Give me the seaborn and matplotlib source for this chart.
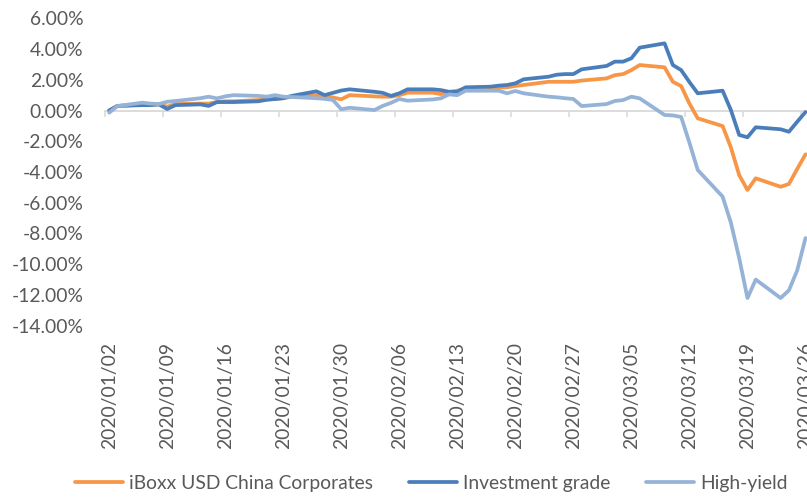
import matplotlib
matplotlib.use("Agg")
from matplotlib import pyplot as plt
import matplotlib.dates as mdates
import matplotlib.ticker as mticker
import pandas as pd
import seaborn as sns

# data (cumulative return, %), business days 2020/01/02 - 2020/03/26
dates = pd.bdate_range("2020-01-02", "2020-03-26")

iboxx = [0.0, 0.3, 0.38, 0.38, 0.4, 0.25, 0.42, 0.45, 0.45, 0.55, 0.6, 0.6, 0.68, 0.72, 0.75, 0.8, 0.9, 1.0, 0.9, 0.85, 0.73, 1.0,
         0.92, 0.9, 0.9, 1.0, 1.16, 1.16, 1.07, 1.2, 1.29, 1.44, 1.48, 1.5, 1.51, 1.6, 1.66, 1.87, 1.87, 1.87, 1.87, 1.95,
         2.09, 2.3, 2.37, 2.63, 2.96, 2.81, 1.87, 1.59, 0.45, -0.51, -1.01, -2.4, -4.2, -5.17, -4.41, -4.96, -4.78, -3.8, -2.85]
inv_grade = [0.0, 0.3, 0.35, 0.35, 0.4, 0.1, 0.35, 0.4, 0.3, 0.55, 0.55, 0.55, 0.6, 0.7, 0.75, 0.8, 0.95, 1.25, 1.0, 1.15, 1.3, 1.38,
             1.22, 1.15, 0.95, 1.12, 1.38, 1.38, 1.33, 1.22, 1.22, 1.51, 1.55, 1.62, 1.66, 1.77, 2.03, 2.2, 2.33, 2.37, 2.37, 2.68,
             2.9, 3.18, 3.18, 3.4, 4.09, 4.37, 2.96, 2.63, 1.85, 1.12, 1.29, 0.03, -1.59, -1.74, -1.09, -1.22, -1.38, -0.73, -0.1]
high_yield = [-0.14, 0.29, 0.51, 0.45, 0.42, 0.57, 0.62, 0.8, 0.9, 0.79, 0.92, 1.0, 0.95, 0.9, 1.0, 0.9, 0.88, 0.8, 0.76, 0.68, 0.08, 0.18,
              0.03, 0.3, 0.5, 0.75, 0.64, 0.72, 0.79, 1.05, 1.0, 1.29, 1.29, 1.29, 1.12, 1.27, 1.12, 0.9, 0.86, 0.8, 0.75, 0.29,
              0.42, 0.62, 0.68, 0.9, 0.79, -0.29, -0.32, -0.42, -2.1, -3.87, -5.6, -7.3, -9.6, -12.2, -11.0, -12.2, -11.7, -10.4, -8.3]

series_names = ["iBoxx USD China Corporates", "Investment grade", "High-yield"]
colors = ["#F79646", "#4A7EBB", "#95B3D7"]

tick_labels = ["2020/01/02", "2020/01/09", "2020/01/16", "2020/01/23", "2020/01/30", "2020/02/06", "2020/02/13",
               "2020/02/20", "2020/02/27", "2020/03/05", "2020/03/12", "2020/03/19", "2020/03/26"]
y_ticks = [-14, -12, -10, -8, -6, -4, -2, 0, 2, 4, 6]

# long format dataframe for seaborn, points sit in the middle of each day
df = pd.DataFrame({"date": dates + pd.Timedelta(hours=12),
                   series_names[0]: iboxx,
                   series_names[1]: inv_grade,
                   series_names[2]: high_yield})
df = df.melt(id_vars="date", var_name="series", value_name="value")

sns.set_style("white")
plt.rcParams["font.family"] = ["Lato", "DejaVu Sans"]
plt.rcParams["axes.unicode_minus"] = False
txt_col = "#595959"
grid_col = "#D9D9D9"
fsize = 13.9

fig = plt.figure(figsize=(8.07, 4.98), dpi=100)
ax = fig.add_axes([105 / 807, 1 - 325.7 / 498, 702 / 807, (325.7 - 18.3) / 498])

sns.lineplot(data=df, x="date", y="value", hue="series", hue_order=series_names,
             palette=colors, linewidth=2.7, ax=ax)

start = pd.Timestamp("2020-01-02")
ax.set_xlim(mdates.date2num(start), mdates.date2num(start) + 702 / 8.29)
ax.set_ylim(-14, 6)

for s in ax.spines.values():
    s.set_visible(False)

# y axis
ax.set_yticks(y_ticks)
ax.yaxis.set_major_formatter(mticker.PercentFormatter(100, decimals=2))
ax.tick_params(axis="y", length=0, pad=15.5, labelsize=fsize, labelcolor=txt_col)

# x labels low, under the plot area
tick_days = pd.to_datetime(tick_labels, format="%Y/%m/%d")
ax.set_xticks(mdates.date2num(tick_days + pd.Timedelta(hours=12)))
ax.set_xticklabels(tick_labels, rotation=90)
ax.tick_params(axis="x", length=0, pad=11.5, labelsize=fsize, labelcolor=txt_col)
ax.set(xlabel="", ylabel="")

# horizontal axis line at 0 with tick marks
sec = ax.secondary_xaxis(0.7)
sec.set_alignment("bottom")
sec.set_xticks(mdates.date2num(tick_days))
sec.tick_params(axis="x", direction="out", length=4.5, width=1.1, color=grid_col, labelbottom=False)
sec.spines["bottom"].set_color(grid_col)
sec.spines["bottom"].set_linewidth(1.3)
ax.set_zorder(sec.get_zorder() + 1)

# legend at bottom
handles, labels = ax.get_legend_handles_labels()
ax.legend_.remove()
leg = fig.legend(handles, labels, ncol=3, loc="center left", bbox_to_anchor=(75 / 807, 1 - 483 / 498),
                 frameon=False, fontsize=fsize, handlelength=2.5, handletextpad=0.3,
                 columnspacing=1.85, borderpad=0, borderaxespad=0)
for t in leg.get_texts():
    t.set_color(txt_col)
for l in leg.get_lines():
    l.set_linewidth(2.7)

fig.savefig("out.png", dpi=100)
plt.close(fig)
